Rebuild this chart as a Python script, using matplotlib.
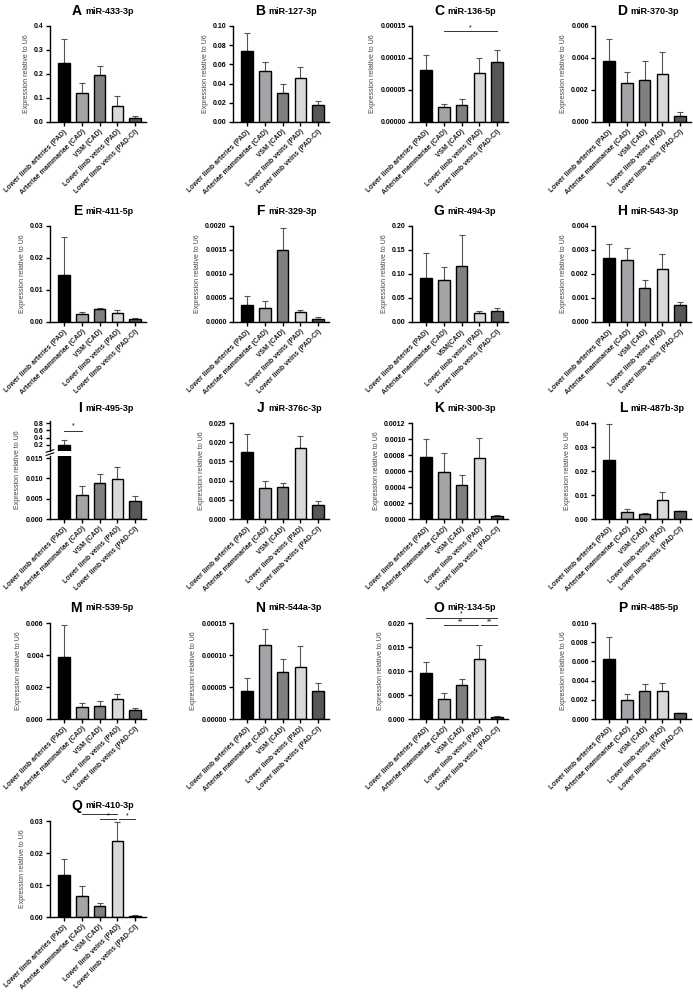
import matplotlib
matplotlib.use("Agg")
import matplotlib.pyplot as plt
from matplotlib.ticker import FormatStrFormatter

plt.rcParams['font.family'] = ['Liberation Sans', 'DejaVu Sans']

W, H = 693, 992

groups = ["Lower limb arteries (PAD)", "Arteriae mammariae (CAD)", "VSM (CAD)",
          "Lower limb veins (PAD)", "Lower limb veins (PAD-CI)"]
groups_g = ["Lower limb arteries (PAD)", "Arteriae mammariae (CAD)", "VSM(CAD)",
            "Lower limb veins (PAD)", "Lower limb veins (PAD-CI)"]
bar_colors = ["#000000", "#a4a4a8", "#808080", "#d9d9d9", "#575757"]

# panel letter, miRNA, means, mean+SEM, ymax, tick step, decimals
letters = list("ABCDEFGHIJKLMNOPQ")
mirnas = ["miR-433-3p", "miR-127-3p", "miR-136-5p", "miR-370-3p",
          "miR-411-5p", "miR-329-3p", "miR-494-3p", "miR-543-3p",
          "miR-495-3p", "miR-376c-3p", "miR-300-3p", "miR-487b-3p",
          "miR-539-5p", "miR-544a-3p", "miR-134-5p", "miR-485-5p",
          "miR-410-3p"]
means = [
    [0.245, 0.122, 0.195, 0.068, 0.018],
    [0.074, 0.053, 0.030, 0.046, 0.018],
    [8.2e-5, 2.3e-5, 2.6e-5, 7.6e-5, 9.3e-5],
    [0.0038, 0.00245, 0.0026, 0.0030, 0.0004],
    [0.0147, 0.0025, 0.0040, 0.0029, 0.0010],
    [0.00035, 0.00030, 0.0015, 0.00020, 0.00007],
    [0.091, 0.088, 0.116, 0.019, 0.022],
    [0.00265, 0.0026, 0.00143, 0.0022, 0.0007],
    [0.20, 0.0060, 0.0089, 0.0098, 0.0045],
    [0.0174, 0.0082, 0.0083, 0.0185, 0.0037],
    [0.00077, 0.00059, 0.00042, 0.00076, 0.00004],
    [0.0245, 0.0030, 0.0019, 0.0080, 0.0032],
    [0.00385, 0.00077, 0.00083, 0.00125, 0.00057],
    [4.4e-5, 1.15e-4, 7.3e-5, 8.2e-5, 4.4e-5],
    [0.0095, 0.0041, 0.0070, 0.0126, 0.0004],
    [0.0062, 0.0020, 0.0029, 0.0029, 0.0006],
    [0.0132, 0.0065, 0.0034, 0.0238, 0.0004],
]
tops = [
    [0.345, 0.163, 0.233, 0.108, 0.025],
    [0.093, 0.063, 0.040, 0.057, 0.022],
    [1.04e-4, 2.8e-5, 3.6e-5, 1.0e-4, 1.13e-4],
    [0.0052, 0.0031, 0.0038, 0.0044, 0.00065],
    [0.0267, 0.0031, 0.0045, 0.0037, 0.0014],
    [0.00054, 0.00043, 0.00195, 0.00026, 0.00010],
    [0.143, 0.115, 0.182, 0.022, 0.029],
    [0.00325, 0.0031, 0.00175, 0.00285, 0.00082],
    [0.33, 0.0081, 0.0110, 0.0127, 0.0057],
    [0.0222, 0.0099, 0.0093, 0.0217, 0.0048],
    [0.0010, 0.00083, 0.00055, 0.00101, 0.00005],
    [0.0395, 0.0040, 0.0027, 0.0112, 0.0035],
    [0.0059, 0.0010, 0.0011, 0.00158, 0.00067],
    [6.4e-5, 1.41e-4, 9.4e-5, 1.14e-4, 5.7e-5],
    [0.0119, 0.0054, 0.0084, 0.0154, 0.0006],
    [0.0085, 0.0026, 0.0036, 0.0037, 0.00065],
    [0.0181, 0.0096, 0.0045, 0.0298, 0.0005],
]
ymax = [0.4, 0.10, 0.00015, 0.006, 0.03, 0.002, 0.20, 0.004, 0.015, 0.025,
        0.0012, 0.04, 0.006, 0.00015, 0.020, 0.010, 0.03]
ystep = [0.1, 0.02, 0.00005, 0.002, 0.01, 0.0005, 0.05, 0.001, 0.005, 0.005,
         0.0002, 0.01, 0.002, 0.00005, 0.005, 0.002, 0.01]
ydec = [1, 2, 5, 3, 2, 4, 2, 3, 3, 3, 4, 2, 3, 5, 3, 3, 2]

# significance brackets: panel index -> (x1, x2, y, text)
sig = {
    2: [(1, 4, 0.000142, "*")],
    14: [(0, 4, 0.0211, "*"), (1, 2.92, 0.0195, "**"), (3.08, 4, 0.0195, "**")],
    16: [(1, 3, 0.0323, ""), (2, 2.92, 0.0305, "*"), (3.08, 4, 0.0305, "*")],
}

col_left = [50, 233, 412, 595]
row_top = [26, 226, 423, 623, 821]
AW, AH = 96, 96

fig = plt.figure(figsize=(W / 100, H / 100), dpi=100)


def px_axes(x, y, w, h):
    return fig.add_axes([x / W, 1 - (y + h) / H, w / W, h / H])


def style(ax):
    for s in ["top", "right"]:
        ax.spines[s].set_visible(False)
    for s in ["left", "bottom"]:
        ax.spines[s].set_linewidth(1.0)
    ax.tick_params(direction="out", length=3, width=1.0, labelsize=5, pad=1.5)
    for t in ax.get_yticklabels():
        t.set_fontweight("bold")


def draw_bars(ax, m, t, n=5):
    xs = range(n)
    ax.bar(xs, m[:n], width=0.65, color=bar_colors[:n], edgecolor="black",
           linewidth=1.0, zorder=2)
    ax.errorbar(xs, m[:n], yerr=[[0] * n, [b - a for a, b in zip(m[:n], t[:n])]],
                fmt="none", ecolor="#555555", elinewidth=0.8, capsize=2.5,
                capthick=0.8, zorder=1)
    ax.set_xlim(-0.78, 4.6)


for i in range(17):
    r, c = divmod(i, 4)
    x0, y0 = col_left[c], row_top[r]
    labels = groups_g if i == 6 else groups
    if i == 8:
        # broken y axis: upper segment only holds the first bar
        ax_top = px_axes(x0, y0 - 2, AW, 30)
        ax = px_axes(x0, y0 + 33, AW, 63)
        draw_bars(ax_top, means[i], tops[i], n=1)
        ax_top.set_ylim(0.03, 0.86)
        ax_top.set_yticks([0.2, 0.4, 0.6, 0.8])
        ax_top.yaxis.set_major_formatter(FormatStrFormatter("%.1f"))
        ax_top.set_xticks([])
        style(ax_top)
        ax_top.spines["bottom"].set_visible(False)
        ax_top.plot([0, 1], [0.58, 0.58], color="#333333", lw=0.7, clip_on=False)
        ax_top.text(0.5, 0.62, "*", ha="center", va="bottom", fontsize=5)
        draw_bars(ax, [min(v, 0.02) for v in means[i]], [min(v, 0.02) for v in tops[i]])
        ax.set_ylim(0, 0.0155)
        for yy in (1.03, 1.08):
            ax.plot([-0.04, 0.04], [yy - 0.02, yy + 0.02], transform=ax.transAxes,
                    color="black", lw=0.8, clip_on=False)
    else:
        ax = px_axes(x0, y0, AW, AH)
        draw_bars(ax, means[i], tops[i])
        ax.set_ylim(0, ymax[i])
    n = int(round(ymax[i] / ystep[i]))
    ax.set_yticks([k * ystep[i] for k in range(n + 1)])
    ax.yaxis.set_major_formatter(FormatStrFormatter("%%.%df" % ydec[i]))
    ax.set_xticks(range(5))
    ax.set_xticklabels(labels, rotation=45, ha="right", rotation_mode="anchor",
                       fontsize=5, fontweight="bold", color="#222222")
    style(ax)
    ax.set_ylabel("Expression relative to U6", fontsize=5, color="#444444", labelpad=3)
    if i == 8:
        ax.yaxis.set_label_coords(-0.3, 0.78)
    for (a, b, yv, txt) in sig.get(i, []):
        ax.plot([a, b], [yv, yv], color="#333333", lw=0.7, clip_on=False)
        if txt:
            ax.text((a + b) / 2, yv, txt, ha="center", va="bottom",
                    fontsize=5, clip_on=False)
    # title: big letter + miRNA name
    cx = (x0 + AW / 2) / W
    ty = 1 - (y0 - 15) / H
    fig.text(cx - 16 / W, ty, letters[i], ha="right", va="center", fontsize=10,
             fontweight="bold")
    fig.text(cx - 13 / W, ty, mirnas[i], ha="left", va="center", fontsize=6.5,
             fontweight="bold")

fig.savefig("out.png", dpi=100)
